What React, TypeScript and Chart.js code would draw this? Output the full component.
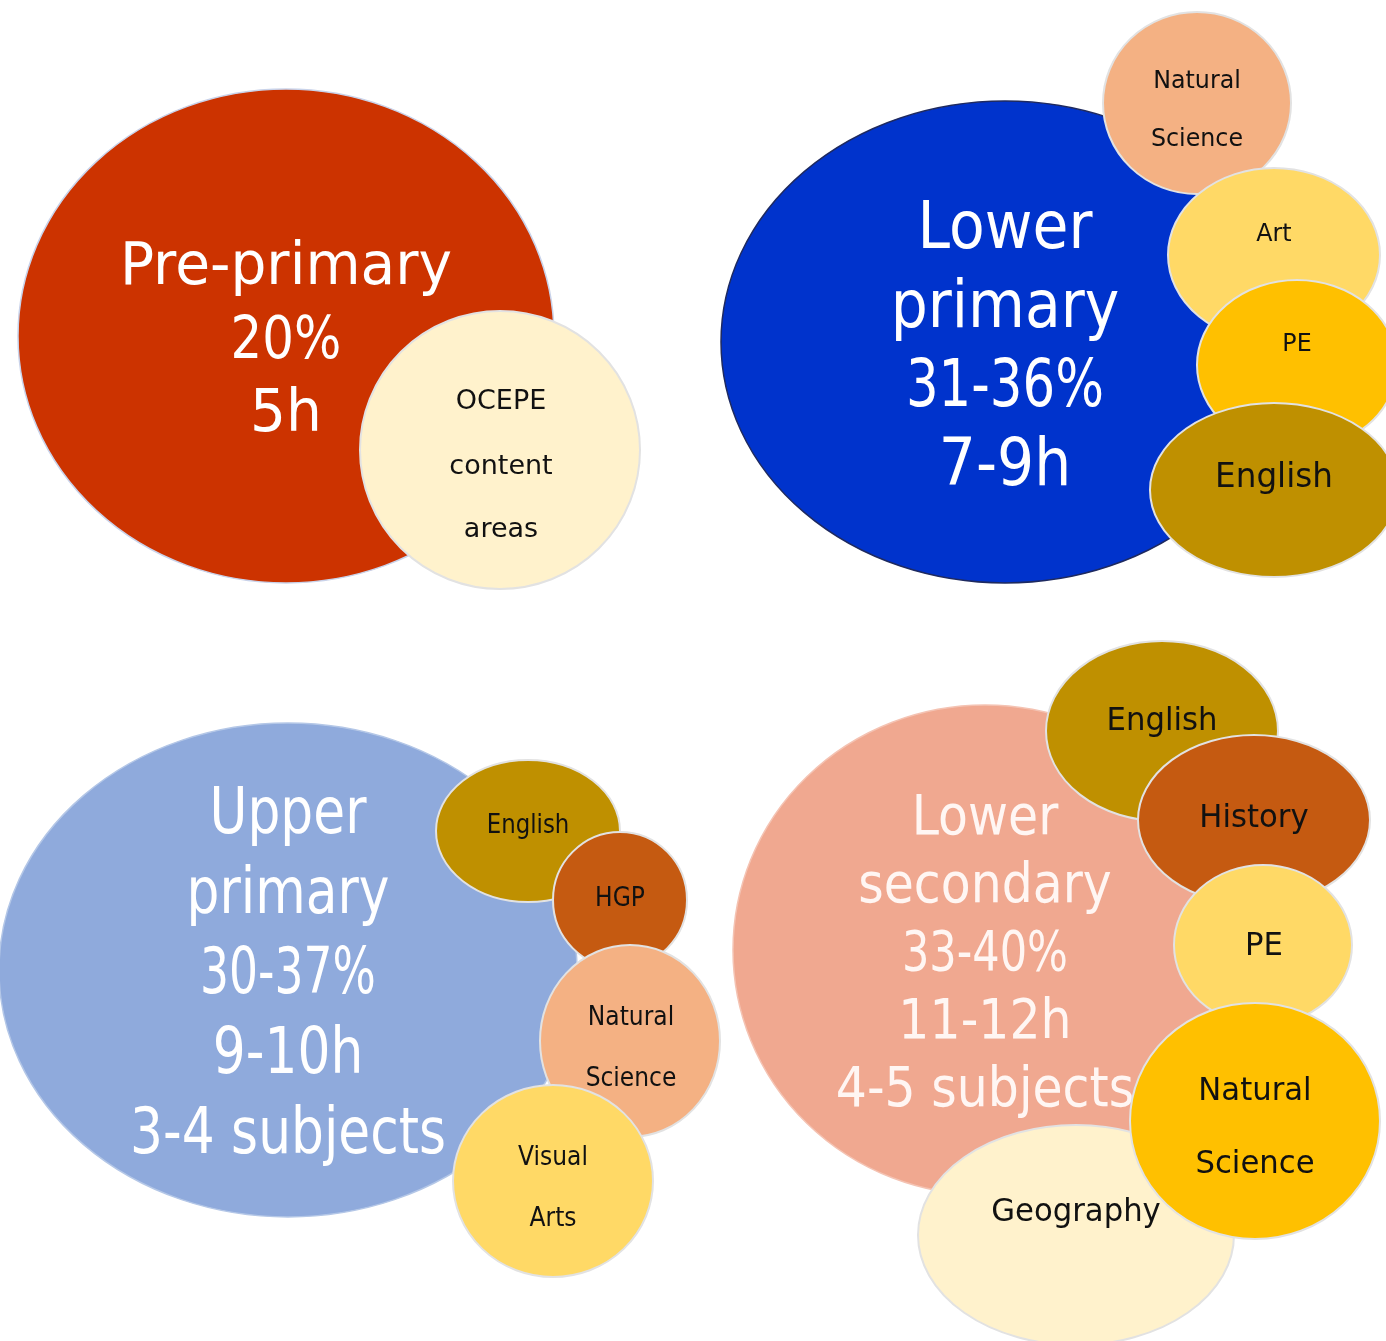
import { useEffect, useRef } from "react";
import { Chart, registerables } from "chart.js";

Chart.register(...registerables);

const W = 1386;
const H = 1341;

// ---- Stage (large) ellipses ----
const stageLines = [
  ["Pre-primary", "20%", "5h"],
  ["Lower", "primary", "31-36%", "7-9h"],
  ["Upper", "primary", "30-37%", "9-10h", "3-4 subjects"],
  ["Lower", "secondary", "33-40%", "11-12h", "4-5 subjects"],
];
const stageX = [286, 1005, 288, 985];
const stageY = [336, 342, 970, 950];
const stageRX = [268, 284, 289, 252];
const stageRY = [247, 241, 247, 245];

// ---- Subject (small) ellipses ----
const subjectLines = [
  ["OCEPE", "content", "areas"],
  ["Natural", "Science"],
  ["Art"],
  ["PE"],
  ["English"],
  ["English"],
  ["HGP"],
  ["Natural", "Science"],
  ["Visual", "Arts"],
  ["Geography"],
  ["English"],
  ["History"],
  ["PE"],
  ["Natural", "Science"],
];
const subjectStage = [0, 1, 1, 1, 1, 2, 2, 2, 2, 3, 3, 3, 3, 3];
const subjectX = [500, 1197, 1274, 1297, 1274, 528, 620, 630, 553, 1076, 1162, 1254, 1263, 1255];
const subjectY = [450, 103, 255, 365, 490, 831, 900, 1041, 1181, 1235, 731, 820, 945, 1121];
const subjectRX = [140, 94, 106, 100, 124, 92, 67, 90, 100, 158, 116, 116, 89, 125];
const subjectRY = [139, 91, 87, 85, 87, 71, 68, 96, 96, 110, 90, 85, 80, 118];

// ---- Styling / layout (kept apart from the values) ----
const stageFill = ["#CC3300", "#0033CC", "#8FAADC", "#F0A890"];
const stageStroke = ["#C9D3EA", "#1E2A60", "#B4C7E7", "#F4C3B3"];
const stageText = ["#FFFFFF", "#FFFFFF", "#FFFFFF", "#FFF6F3"];
const stageFontSize = [59, 66, 64, 55];
const stageLineGap = [73.5, 79, 80, 68];
const stageScaleX = [0.96, 0.885, 0.81, 0.89];
const percentLineSqueeze = 0.88;

const subjectFill = [
  "#FFF2CC", "#F4B183", "#FFD966", "#FFC000", "#BF9000",
  "#BF9000", "#C55A11", "#F4B183", "#FFD966",
  "#FFF2CC", "#BF9000", "#C55A11", "#FFD966", "#FFC000",
];
const subjectFontSize = [27, 25, 25, 25, 34, 26, 26, 26, 26, 32, 32, 32, 32, 32];
const subjectScaleX = [1, 0.95, 0.95, 0.95, 0.96, 0.88, 0.9, 0.9, 0.9, 0.96, 0.96, 0.96, 0.96, 0.96];
const subjectLabelX = [501, 1197, 1274, 1297, 1274, 528, 620, 631, 553, 1076, 1162, 1254, 1264, 1255];
const subjectLabelY = [
  [399, 464, 527],
  [79, 137],
  [232],
  [342],
  [475],
  [824],
  [897],
  [1016, 1077],
  [1156, 1217],
  [1209],
  [718],
  [815],
  [943],
  [1088, 1161],
];

const FONT = '"DejaVu Sans", Verdana, sans-serif';

type Item = {
  x: number;
  y: number;
  rx: number;
  ry: number;
  lines: string[];
  kind: "stage" | "subject";
  idx: number;
};

function buildDatasets() {
  return stageLines.map((lines, s) => {
    const data: Item[] = [
      { x: stageX[s], y: stageY[s], rx: stageRX[s], ry: stageRY[s], lines, kind: "stage", idx: s },
    ];
    subjectStage.forEach((st, j) => {
      if (st === s) {
        data.push({
          x: subjectX[j],
          y: subjectY[j],
          rx: subjectRX[j],
          ry: subjectRY[j],
          lines: subjectLines[j],
          kind: "subject",
          idx: j,
        });
      }
    });
    return { label: lines.join(" "), data, pointRadius: 0, showLine: false };
  });
}

function drawText(ctx: CanvasRenderingContext2D, text: string, x: number, y: number, size: number, sx: number, color: string) {
  ctx.save();
  ctx.font = `${size}px ${FONT}`;
  ctx.fillStyle = color;
  ctx.textAlign = "center";
  ctx.textBaseline = "alphabetic";
  ctx.translate(x, y);
  ctx.scale(sx, 1);
  ctx.fillText(text, 0, 0);
  ctx.restore();
}

const ellipsePlugin = {
  id: "ellipseBubbles",
  afterDatasetsDraw(chart: any) {
    const ctx: CanvasRenderingContext2D = chart.ctx;
    const xs = chart.scales.x;
    const ys = chart.scales.y;
    chart.data.datasets.forEach((ds: any) => {
      (ds.data as Item[]).forEach((p) => {
        const cx = xs.getPixelForValue(p.x);
        const cy = ys.getPixelForValue(p.y);
        const rx = Math.abs(xs.getPixelForValue(p.x + p.rx) - cx);
        const ry = Math.abs(ys.getPixelForValue(p.y + p.ry) - cy);
        const isStage = p.kind === "stage";
        ctx.save();
        ctx.beginPath();
        ctx.ellipse(cx, cy, rx, ry, 0, 0, Math.PI * 2);
        ctx.fillStyle = isStage ? stageFill[p.idx] : subjectFill[p.idx];
        ctx.fill();
        ctx.lineWidth = isStage ? 1.5 : 2;
        ctx.strokeStyle = isStage ? stageStroke[p.idx] : "#E2E2E2";
        ctx.stroke();
        ctx.restore();

        if (isStage) {
          const size = stageFontSize[p.idx];
          const gap = stageLineGap[p.idx];
          const n = p.lines.length;
          p.lines.forEach((t, i) => {
            const by = cy + (i - (n - 1) / 2) * gap + 0.365 * size;
            const sx = stageScaleX[p.idx] * (t.includes("%") ? percentLineSqueeze : 1);
            drawText(ctx, t, cx, by, size, sx, stageText[p.idx]);
          });
        } else {
          const size = subjectFontSize[p.idx];
          const lx = xs.getPixelForValue(subjectLabelX[p.idx]);
          p.lines.forEach((t, i) => {
            const ly = ys.getPixelForValue(subjectLabelY[p.idx][i]);
            drawText(ctx, t, lx, ly + 0.36 * size, size, subjectScaleX[p.idx], "#111111");
          });
        }
      });
    });
  },
};

export default function App() {
  const ref = useRef<HTMLCanvasElement>(null);
  useEffect(() => {
    const chart = new Chart(ref.current as HTMLCanvasElement, {
      type: "scatter",
      data: { datasets: buildDatasets() as any },
      options: {
        animation: false,
        responsive: false,
        events: [],
        layout: { padding: 0 },
        plugins: { legend: { display: false }, tooltip: { enabled: false } },
        scales: {
          x: { type: "linear", min: 0, max: W, display: false },
          y: { type: "linear", min: 0, max: H, reverse: true, display: false },
        },
        elements: { point: { radius: 0 } },
      },
      plugins: [ellipsePlugin],
    });
    return () => chart.destroy();
  }, []);
  return (
    <div style={{ position: "absolute", left: 0, top: 0, width: W, height: H, background: "#FFFFFF" }}>
      <canvas ref={ref} width={W} height={H} style={{ display: "block" }} />
    </div>
  );
}
